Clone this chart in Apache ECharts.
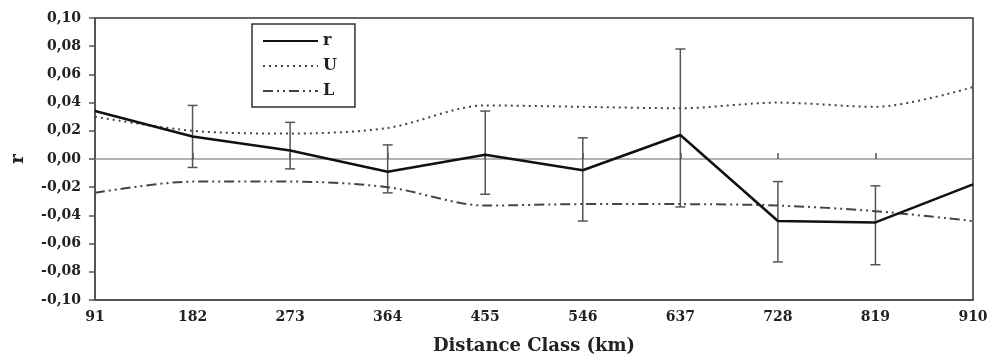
<!DOCTYPE html>
<html>
<head>
<meta charset="utf-8">
<script src="https://cdn.jsdelivr.net/npm/echarts@6/dist/echarts.min.js"></script>
<style>
  html, body { margin: 0; padding: 0; background: #fff; }
  #chart { width: 990px; height: 358px; }
</style>
</head>
<body>
<div id="chart"></div>
<script>
// distance classes (km)
const categories = ['91', '182', '273', '364', '455', '546', '637', '728', '819', '910'];
// correlogram r and the confidence envelope U / L
const rValues = [0.034, 0.016, 0.006, -0.009, 0.003, -0.008, 0.017, -0.044, -0.045, -0.018];
const uValues = [0.030, 0.020, 0.018, 0.022, 0.038, 0.037, 0.036, 0.040, 0.037, 0.051];
const lValues = [-0.024, -0.016, -0.016, -0.020, -0.033, -0.032, -0.032, -0.033, -0.037, -0.044];
// error bars of r (null = none)
const errLow = [null, -0.006, -0.007, -0.024, -0.025, -0.044, -0.034, -0.073, -0.075, null];
const errHigh = [null, 0.038, 0.026, 0.010, 0.034, 0.015, 0.078, -0.016, -0.019, null];

const errData = [];
categories.forEach((c, i) => {
  if (errLow[i] != null) errData.push([i, errLow[i], errHigh[i]]);
});

const font = 'DejaVu Serif';
const chart = echarts.init(document.getElementById('chart'));

const option = {
  animation: false,
  backgroundColor: '#fff',
  grid: {
    left: 95, right: 17, top: 18, bottom: 58,
    outerBoundsMode: 'none',
    show: true,
    borderColor: '#333',
    borderWidth: 1.5
  },
  legend: {
    orient: 'vertical',
    left: 252,
    top: 24,
    data: ['r', 'U', 'L'],
    itemWidth: 55,
    itemHeight: 14,
    itemGap: 9,
    padding: [9, 18, 8, 10],
    borderColor: '#333',
    borderWidth: 1.5,
    itemStyle: { opacity: 0 },
    textStyle: { fontFamily: font, fontWeight: 'bold', fontSize: 16, color: '#222' }
  },
  xAxis: [{
    type: 'category',
    data: categories,
    boundaryGap: false,
    position: 'bottom',
    name: 'Distance Class (km)',
    nameLocation: 'middle',
    nameGap: 37,
    nameTextStyle: { fontFamily: font, fontWeight: 'bold', fontSize: 18, color: '#222' },
    axisLine: { onZero: false, lineStyle: { color: '#555', width: 2 } },
    axisTick: { show: false },
    axisLabel: { fontFamily: font, fontWeight: 'bold', fontSize: 14, color: '#222', margin: 10 },
    splitLine: { show: false }
  }, {
    // zero line with its small ticks
    type: 'category',
    data: categories,
    boundaryGap: false,
    position: 'bottom',
    axisLine: { onZero: true, lineStyle: { color: '#999', width: 1.5 } },
    axisTick: { show: true, inside: true, length: 6, lineStyle: { color: '#555', width: 1.5 } },
    axisLabel: { show: false },
    splitLine: { show: false }
  }],
  yAxis: {
    type: 'value',
    min: -0.1,
    max: 0.1,
    interval: 0.02,
    name: 'r',
    nameLocation: 'middle',
    nameGap: 68,
    nameRotate: 90,
    nameTextStyle: { fontFamily: font, fontWeight: 'bold', fontSize: 18, color: '#222' },
    axisLine: { show: true, lineStyle: { color: '#555', width: 2 } },
    axisTick: { show: true, length: 6, lineStyle: { color: '#555', width: 1.5 } },
    axisLabel: {
      fontFamily: font, fontWeight: 'bold', fontSize: 14, color: '#222', margin: 14,
      formatter: v => v.toFixed(2).replace('.', ',')
    },
    splitLine: { show: false }
  },
  series: [{
    name: 'err',
    type: 'custom',
    data: errData,
    encode: { x: 0, y: [1, 2] },
    silent: true,
    z: 1,
    renderItem: (params, api) => {
      const i = api.value(0);
      const lo = api.coord([i, api.value(1)]);
      const hi = api.coord([i, api.value(2)]);
      const w = 5;
      const st = { stroke: '#555', lineWidth: 1.5 };
      return {
        type: 'group',
        children: [
          { type: 'line', shape: { x1: lo[0], y1: lo[1], x2: hi[0], y2: hi[1] }, style: st },
          { type: 'line', shape: { x1: lo[0] - w, y1: lo[1], x2: lo[0] + w, y2: lo[1] }, style: st },
          { type: 'line', shape: { x1: hi[0] - w, y1: hi[1], x2: hi[0] + w, y2: hi[1] }, style: st }
        ]
      };
    }
  }, {
    name: 'r',
    type: 'line',
    data: rValues,
    symbol: 'none',
    z: 3,
    lineStyle: { color: '#111', width: 2.5 },
    itemStyle: { color: '#111' }
  }, {
    name: 'U',
    type: 'line',
    data: uValues,
    symbol: 'none',
    smooth: 0.3,
    z: 2,
    lineStyle: { color: '#444', width: 2, type: [2, 4] },
    itemStyle: { color: '#444' }
  }, {
    name: 'L',
    type: 'line',
    data: lValues,
    symbol: 'none',
    smooth: 0.3,
    z: 2,
    lineStyle: { color: '#444', width: 2, type: [10, 4, 2, 4, 2, 4] },
    itemStyle: { color: '#444' }
  }]
};

chart.setOption(option);
</script>
</body>
</html>
